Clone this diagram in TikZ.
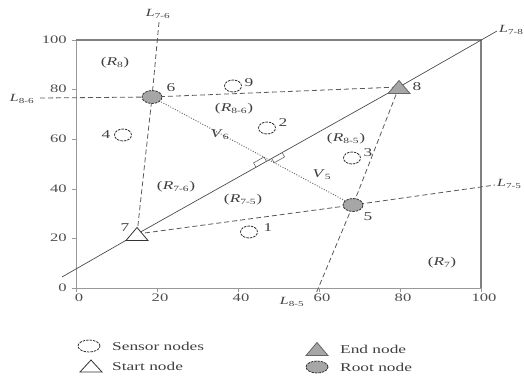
\documentclass[tikz,border=0pt]{standalone}
\usepackage{fontspec}
\setmainfont{Liberation Serif}[FakeStretch=1.45]
\usetikzlibrary{shapes.geometric}
\begin{document}
\begin{tikzpicture}[x=1bp,y=-1bp,
 txt/.style={text=black!75, font=\fontsize{12}{13}\selectfont, inner sep=0},
 ltxt/.style={txt, font=\fontsize{11}{12}\selectfont},
 tick/.style={text=black!70, font=\fontsize{11.5}{12}\selectfont, inner sep=0},
 frame/.style={draw=black!50, line width=1.6bp},
 axis/.style={draw=black!40, line width=0.9bp},
 lline/.style={draw=black!70, line width=0.7bp},
 dline/.style={draw=black!65, line width=0.8bp, dash pattern=on 5bp off 3bp},
 vline/.style={draw=black!60, line width=0.9bp, dash pattern=on 1bp off 1.6bp},
 rmark/.style={draw=black!60, line width=0.6bp},
 sensor/.style={ellipse, draw=black!80, dash pattern=on 2.5bp off 1bp, fill=white, minimum width=17bp, minimum height=12bp, inner sep=0, line width=0.8bp},
 root/.style={sensor, fill=black!35, minimum width=20bp, minimum height=13bp},
 tri/.style={draw=black!80, line width=0.8bp, fill=white},
 gtri/.style={tri, fill=black!35, draw=black!60}
]
\useasboundingbox (0,0) rectangle (524,381);

% frame and axes
\draw[axis] (76,40) -- (76,288) -- (481,288);
\draw[frame] (76,40) -- (481,40) -- (481,288);
\foreach \y/\t in {288/0,238/20,189/40,139/60,89/80,40/100}{
  \draw[axis] (76,\y) -- (72,\y);
  \node[tick, anchor=east] (yl\t) at (67,\y) {\t};
}
\foreach \x/\t in {76/0,157/20,238/40,319/60,400/80,481/100}{
  \draw[axis] (\x,288) -- (\x,292);
  \node[tick] (xl\t) at (\x+3,298) {\t};
}

% node positions
\coordinate (n1) at (249,232);
\coordinate (n2) at (267,128);
\coordinate (n3) at (352,158);
\coordinate (n4) at (123,135);
\coordinate (n5) at (353,205);
\coordinate (n6) at (152,97);
\coordinate (n7) at (137,234);
\coordinate (n8) at (399,87);
\coordinate (n9) at (233,86);

% free ends of lines
\coordinate (L78a) at (62,277);
\coordinate (L78b) at (497,31);
\coordinate (L76t) at (159,22);
\coordinate (L86l) at (40,98);
\coordinate (L75r) at (495,185);
\coordinate (L85b) at (315,296);

% lines
\draw[lline] (L78a) -- (n7) -- (n8) -- (L78b);
\draw[dline] (n7) -- (n6) -- (L76t);
\draw[dline] (L86l) -- (n6) -- (n8);
\draw[dline] (n7) -- (n5) -- (L75r);
\draw[dline] (n8) -- (n5) -- (L85b);

\coordinate (F) at (intersection of n6--n5 and n7--n8);
\draw[vline] (n6) -- (F) -- (n5);
\begin{scope}[shift={(F)}, rotate=29.3]
  \draw[rmark] (-15,0) -- (-15,-5) -- (-3,-5) -- (-3,0);
  \draw[rmark] (3,0) -- (3,5) -- (15,5) -- (15,0);
\end{scope}

% nodes
\node[sensor] (s1) at (n1) {};
\node[sensor] (s2) at (n2) {};
\node[sensor] (s3) at (n3) {};
\node[sensor] (s4) at (n4) {};
\node[sensor] (s9) at (n9) {};
\node[root] (r5) at (n5) {};
\node[root] (r6) at (n6) {};
\draw[tri] (n7) ++(-11,6.5) -- ++(22,0) -- ++(-11,-13) -- cycle;
\draw[gtri] (n8) ++(-11,6.5) -- ++(22,0) -- ++(-11,-13) -- cycle;

% node numbers
\node[txt] (t1) at (268,228) {1};
\node[txt] (t2) at (283,123) {2};
\node[txt] (t3) at (368,153) {3};
\node[txt] (t4) at (106,135) {4};
\node[txt] (t5) at (368,217) {5};
\node[txt] (t6) at (171,88) {6};
\node[txt] (t7) at (125,228) {7};
\node[txt] (t8) at (417,87) {8};
\node[txt] (t9) at (249,83) {9};

% region labels
\node[txt] (R8) at (115,63) {(\textit{R}\textsubscript{8})};
\node[txt] (R86) at (234,109) {(\textit{R}\textsubscript{8-6})};
\node[txt] (R85) at (346,139) {(\textit{R}\textsubscript{8-5})};
\node[txt] (R76) at (176,187) {(\textit{R}\textsubscript{7-6})};
\node[txt] (R75) at (243,200) {(\textit{R}\textsubscript{7-5})};
\node[txt] (R7) at (442,263) {(\textit{R}\textsubscript{7})};
\node[txt] (V6) at (220,135) {\textit{V}\textsubscript{6}};
\node[txt] (V5) at (322,175) {\textit{V}\textsubscript{5}};

% line labels
\node[ltxt] (lab76) at (158,14) {\textit{L}\textsubscript{7-6}};
\node[ltxt] (lab86) at (22,99) {\textit{L}\textsubscript{8-6}};
\node[ltxt, anchor=west] (lab78) at (499,30) {\textit{L}\textsubscript{7-8}};
\node[ltxt, anchor=west] (lab75) at (497,184) {\textit{L}\textsubscript{7-5}};
\node[ltxt] (lab85) at (292,302) {\textit{L}\textsubscript{8-5}};

% legend
\node[sensor, minimum width=22bp] (ls) at (89,346) {};
\node[txt, anchor=west] (lst) at (112,346) {Sensor nodes};
\draw[tri] (91,366) ++(-11,6) -- ++(22,0) -- ++(-11,-12) -- cycle;
\node[txt, anchor=west] (lstart) at (112,366) {Start node};
\draw[gtri] (317,349) ++(-11,6.5) -- ++(22,0) -- ++(-11,-13) -- cycle;
\node[txt, anchor=west] (lend) at (340,349) {End node};
\node[root, minimum width=22bp, minimum height=12bp] (lr) at (317,367) {};
\node[txt, anchor=west] (lroot) at (340,367) {Root node};
\end{tikzpicture}
\end{document}
